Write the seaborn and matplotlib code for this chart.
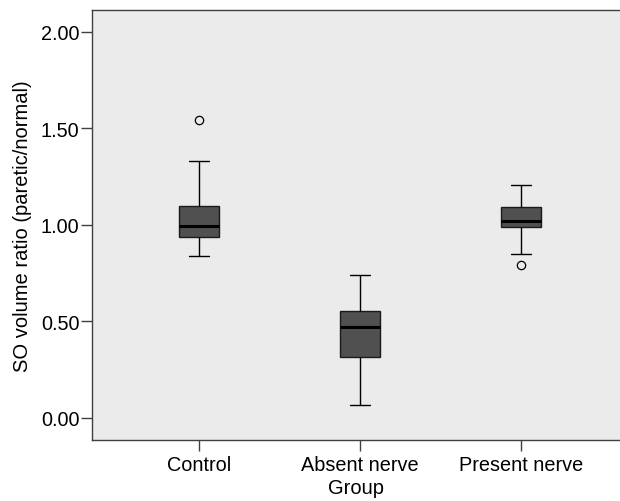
import matplotlib
matplotlib.use("Agg")
import matplotlib.pyplot as plt
import seaborn as sns
import pandas as pd

# values (ratios per group)
control = [0.838, 0.90, 0.937, 0.97, 0.994, 1.05, 1.097, 1.33, 1.542]
absent_nerve = [0.067, 0.20, 0.316, 0.40, 0.471, 0.52, 0.554, 0.65, 0.74]
present_nerve = [0.792, 0.849, 0.989, 1.00, 1.02, 1.05, 1.092, 1.15, 1.206]
groups = ["Control", "Absent nerve", "Present nerve"]
yticks = [0.0, 0.5, 1.0, 1.5, 2.0]

df = pd.DataFrame({
    "Group": [groups[0]] * len(control) + [groups[1]] * len(absent_nerve) + [groups[2]] * len(present_nerve),
    "ratio": control + absent_nerve + present_nerve,
})

sns.set_style("white")
plt.rcParams["font.family"] = ["Liberation Sans", "DejaVu Sans"]
plt.rcParams["text.color"] = "black"
plt.rcParams["axes.labelcolor"] = "black"

fig = plt.figure(figsize=(6.2, 5.02), dpi=100)
ax = fig.add_axes([0.148, 0.1215, 0.852, 0.8565])
ax.set_facecolor("#EBEBEB")

sns.boxplot(
    data=df, x="Group", y="ratio", order=groups, ax=ax,
    width=0.25, color="#505050", linewidth=1.0, whis=1.5,
    boxprops=dict(facecolor="#505050", edgecolor="#1a1a1a"),
    medianprops=dict(color="black", linewidth=2.2),
    whiskerprops=dict(color="black", linewidth=1.0),
    capprops=dict(color="black", linewidth=1.0),
    flierprops=dict(marker="o", markerfacecolor="none", markeredgecolor="black",
                    markersize=6, markeredgewidth=0.9),
)

ax.set_xlim(-0.665, 2.615)
ax.set_ylim(-0.114, 2.112)
ax.set_yticks(yticks)
ax.set_yticklabels([f"{v:.2f}" for v in yticks])

for s in ["left", "bottom", "top"]:
    ax.spines[s].set_visible(True)
    ax.spines[s].set_color("#404040")
    ax.spines[s].set_linewidth(1.0)
ax.spines["right"].set_visible(False)

ax.tick_params(axis="both", direction="out", length=8, width=1.0, color="#404040",
               labelsize=14.3, labelcolor="black", pad=2)
ax.tick_params(axis="x", pad=3)
ax.tick_params(axis="y", left=True, pad=1)
ax.tick_params(axis="x", bottom=True)

ax.set_ylabel("SO volume ratio (paretic/normal)", fontsize=14.5, labelpad=6, color="black")
ax.set_xlabel("Group", fontsize=14.5, labelpad=3, color="black")

fig.savefig("out.png", dpi=100)
